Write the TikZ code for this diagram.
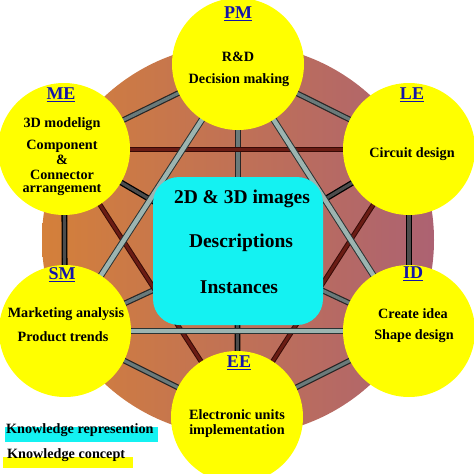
\documentclass[tikz,border=0pt]{standalone}
\usepackage{fontspec}
\setmainfont{Liberation Serif}
\usetikzlibrary{backgrounds}
\definecolor{ylw}{HTML}{FFFF00}
\definecolor{cyn}{HTML}{14F2F2}
\definecolor{lblue}{HTML}{1414A8}
\definecolor{diskL}{HTML}{D4803A}
\definecolor{diskM}{HTML}{C24E30}
\definecolor{diskR}{HTML}{AC6272}
\definecolor{barlight}{HTML}{9CB4B0}
\definecolor{baredge}{HTML}{2A3434}
\definecolor{barmid}{HTML}{6A7A7A}
\definecolor{maroon}{HTML}{6A1C14}
\definecolor{maroonedge}{HTML}{360A06}
\begin{document}
\begin{tikzpicture}[x=1pt,y=-1pt,
  concept/.style={circle,fill=ylw,minimum size=132pt,inner sep=0pt},
  repbox/.style={rectangle,fill=cyn,rounded corners=26pt,minimum width=170pt,minimum height=148pt,inner sep=0pt},
  lbl/.style={font=\fontsize{18}{18}\selectfont\bfseries,text=lblue,inner sep=0pt},
  txt/.style={font=\fontsize{14.2}{15}\selectfont\bfseries,inner sep=0pt},
  bigtxt/.style={font=\fontsize{19.5}{20}\selectfont\bfseries,inner sep=0pt},
  lightbar/.style={draw=baredge,line width=1pt,double=barlight,double distance=4.5pt},
  redbar/.style={draw=maroonedge,line width=1pt,double=maroon,double distance=3pt},
  darkbar/.style={draw=black,line width=1.3pt,double=black!70,double distance=3.2pt},
  palebar/.style={draw=black!85,line width=1.2pt,double=barmid,double distance=3.3pt}]
\useasboundingbox (0,0) rectangle (474,474);
\node[concept] (pm) at (238,64) {};
\node[concept] (me) at (64,149) {};
\node[concept] (le) at (409,149) {};
\node[concept] (sm) at (65,331) {};
\node[concept] (id) at (409,331) {};
\node[concept] (ee) at (237,417) {};
\node[repbox] (ctr) at (238,251) {};
\begin{scope}[on background layer]
  \shade[left color=diskL, middle color=diskM, right color=diskR] (238,240) circle (196);
  % hexagon edges
  \draw[palebar] (pm.center) -- (me.center);
  \draw[palebar] (pm.center) -- (le.center);
  \draw[darkbar] (me.center) -- (sm.center);
  \draw[darkbar] (le.center) -- (id.center);
  \draw[palebar] (sm.center) -- (ee.center);
  \draw[palebar] (id.center) -- (ee.center);
  % spokes to centre
  \draw[palebar] (pm.center) -- (ctr.center);
  \draw[darkbar] (me.center) -- (ctr.center);
  \draw[darkbar] (le.center) -- (ctr.center);
  \draw[palebar] (sm.center) -- (ctr.center);
  \draw[palebar] (id.center) -- (ctr.center);
  \draw[darkbar] (ee.center) -- (ctr.center);
  % triangle of maroon bars
  \draw[redbar] (me.center) -- (le.center);
  \draw[redbar] (me.center) -- (ee.center);
  \draw[redbar] (le.center) -- (ee.center);
  % triangle of light bars
  \draw[lightbar] (pm.center) -- (sm.center);
  \draw[lightbar] (pm.center) -- (id.center);
  \draw[lightbar] (sm.center) -- (id.center);
\end{scope}
% labels and texts
\node[lbl] (pml) at (238,14) {\underline{PM}};
\node[txt] (pm1) at (238,57) {R\&D};
\node[txt] (pm2) at (239,80) {Decision making};
\node[lbl] (mel) at (61,95) {\underline{ME}};
\node[txt] (me1) at (62,124) {3D modelign};
\node[txt] (me2) at (62,146) {Component};
\node[txt] (me3) at (62,160) {\&};
\node[txt] (me4) at (62,175) {Connector};
\node[txt] (me5) at (62,190) {arrangement};
\node[lbl] (lel) at (412,95) {\underline{LE}};
\node[txt] (le1) at (412,154) {Circuit design};
\node[lbl] (sml) at (62,275) {\underline{SM}};
\node[txt] (sm1) at (66,314) {Marketing analysis};
\node[txt] (sm2) at (63,337) {Product trends};
\node[lbl] (idl) at (413,274) {\underline{ID}};
\node[txt] (id1) at (413,314) {Create idea};
\node[txt] (id2) at (414,336) {Shape design};
\node[lbl] (eel) at (239,363) {\underline{EE}};
\node[txt] (ee1) at (237,415) {Electronic units};
\node[txt] (ee2) at (237,431) {implementation};
\node[bigtxt] (c1) at (242,199) {2D \& 3D images};
\node[bigtxt] (c2) at (241,243) {Descriptions};
\node[bigtxt] (c3) at (239,287) {Instances};
% legend
\fill[cyn] (5,427) rectangle (158,442);
\fill[ylw] (3,457) rectangle (133,468);
\node[txt,anchor=base west] (lg1) at (6,433) {Knowledge represention};
\node[txt,anchor=base west] (lg2) at (7,458) {Knowledge concept};
\end{tikzpicture}
\end{document}
